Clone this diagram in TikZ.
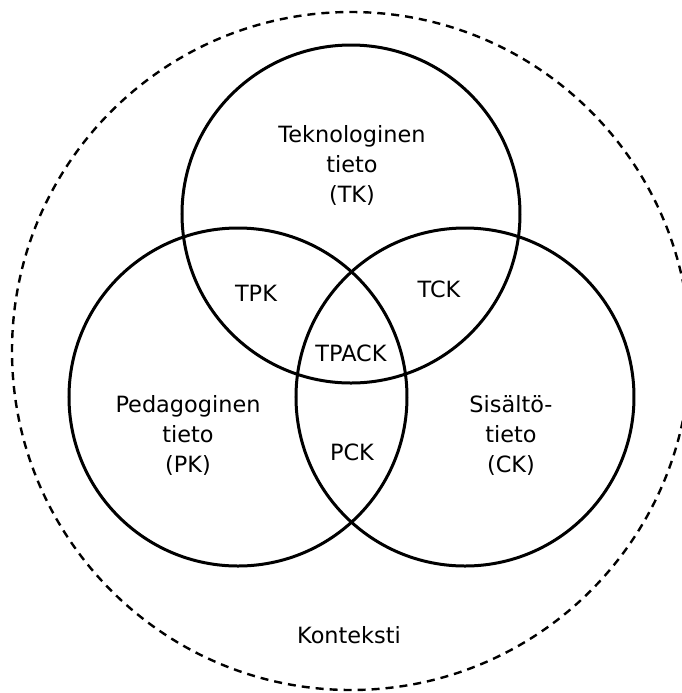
\documentclass[tikz,border=0pt]{standalone}
\usepackage{fontspec}
\setmainfont{DejaVu Sans}
\usepackage{tikz}
\usetikzlibrary{positioning}
\tikzset{>=latex}
\tikzset{font=\fontsize{11.2}{15}\selectfont}
\tikzset{set/.style={line width=1.5pt},
  context/.style={line width=1.2pt, dash pattern=on 4pt off 3pt},
  lbl/.style={align=center, inner sep=0pt}}

\begin{document}
\begin{tikzpicture}[x=0.5pt,y=-0.5pt]
          \useasboundingbox (0,0) rectangle (682,693);
          \clip (0,0) rectangle (682,693);
          % context
          \draw[context] (351,351) circle (339);
          % the three knowledge areas
          \draw[set] (351,214) circle (169);
          \draw[set] (238,397) circle (169);
          \draw[set] (465,397) circle (169);
          \node[lbl] (tk) at (352,165) {Teknologinen\\tieto\\(TK)};
          \node[lbl] (pk) at (188,435) {Pedagoginen\\tieto\\(PK)};
          \node[lbl] (ck) at (511,435) {Sisältö-\\tieto\\(CK)};
          \node[lbl] (tpk) at (256,293) {TPK};
          \node[lbl] (tck) at (439,289) {TCK};
          \node[lbl] (pck) at (352,452) {PCK};
          \node[lbl] (tpack) at (351,353) {TPACK};
          \node[lbl] (kontekst) at (349,635) {Konteksti};
        \end{tikzpicture}
\end{document}
